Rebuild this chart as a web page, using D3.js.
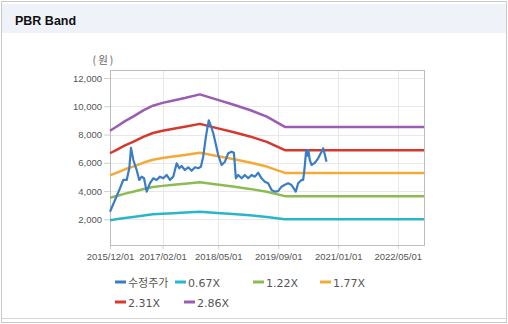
<!DOCTYPE html>
<html>
<head>
<meta charset="utf-8">
<script src="https://cdn.jsdelivr.net/npm/d3@7/dist/d3.min.js"></script>
<style>
  html, body { margin: 0; padding: 0; background: #fff; }
  svg { display: block; }
</style>
</head>
<body>
<svg id="chart" width="508" height="324"></svg>
<script>
// Adjusted share price (수정주가), sampled dates and values in KRW
const priceDates = [
  "2015-12-01","2016-01-11","2016-02-20","2016-03-18","2016-04-15","2016-05-06","2016-05-20",
  "2016-06-08","2016-07-05","2016-07-26","2016-08-15","2016-09-03","2016-09-25","2016-10-21",
  "2016-11-17","2016-12-15","2017-01-11","2017-02-07","2017-03-06","2017-04-02","2017-04-29",
  "2017-05-27","2017-06-17","2017-07-06","2017-08-02","2017-08-29","2017-09-26","2017-10-23",
  "2017-11-18","2017-12-10","2017-12-29","2018-01-20","2018-02-12","2018-02-27","2018-03-21",
  "2018-04-12","2018-04-30","2018-05-28","2018-06-24","2018-07-21","2018-08-17","2018-09-05",
  "2018-09-21","2018-10-10","2018-11-07","2018-12-03","2018-12-30","2019-01-27","2019-02-23",
  "2019-03-22","2019-04-18","2019-05-15","2019-06-11","2019-07-09","2019-08-05","2019-08-31",
  "2019-09-28","2019-10-25","2019-11-21","2019-12-18","2020-01-22","2020-02-10","2020-03-09",
  "2020-03-22","2020-04-01","2020-04-15","2020-04-25","2020-05-03","2020-05-15","2020-05-29",
  "2020-06-25","2020-07-22","2020-08-19","2020-09-01","2020-09-15","2020-09-28"
];
const priceValues = [
  2540,3370,4195,4785,4785,5610,7050,
  6200,5490,4785,5020,4905,3960,4550,
  4905,4785,5020,4905,5140,4785,5020,
  5965,5610,5775,5490,5680,5440,5680,
  5610,5725,6430,7850,9000,8676,8090,
  7260,6553,5845,6080,6673,6787,6716,
  4905,5140,4905,5140,4905,5140,5020,
  5300,4900,4665,4550,4080,3960,4000,
  4310,4450,4550,4430,3960,4550,4785,
  4785,5490,6850,6500,6900,6200,5845,
  6000,6320,6787,7025,6553,6080
];

// Book value per share used for the PBR bands
const bpsDates = [
  "2015-12-01","2016-02-01","2016-04-01","2016-06-06","2016-09-01","2016-11-15","2017-02-01",
  "2017-05-01","2017-08-01","2017-12-02","2018-04-20","2018-08-28","2019-01-13","2019-05-31",
  "2019-10-25","2022-12-01"
];
const bpsValues = [
  2890,3010,3130,3239,3400,3510,3580,
  3640,3700,3790,3660,3540,3405,3239,
  2985,2985
];

// PBR multiples for each band
const bandMultiples = [0.67, 1.22, 1.77, 2.31, 2.86];

const seriesNames = ["수정주가", "0.67X", "1.22X", "1.77X", "2.31X", "2.86X"];
const seriesColors = ["#3b7cc6", "#2bb6c8", "#8dbb52", "#f4aa34", "#d6382e", "#9a5db3"];

const yTicks = [2000, 4000, 6000, 8000, 10000, 12000];
const xTickLabels = ["2015/12/01", "2017/02/01", "2018/05/01", "2019/09/01", "2021/01/01", "2022/05/01"];

const parse = d3.timeParse("%Y-%m-%d");
const parseTick = d3.timeParse("%Y/%m/%d");

const svg = d3.select("#chart");
const W = 508, H = 324;

// outer frame and header
svg.append("rect").attr("x", 1.5).attr("y", 1.5).attr("width", W - 3).attr("height", H - 3)
  .attr("fill", "#fff").attr("stroke", "#c9c9c9");
svg.append("rect").attr("x", 2).attr("y", 4).attr("width", W - 4).attr("height", 29)
  .attr("fill", "#eff2f8");
svg.append("line").attr("x1", 2).attr("x2", W - 2).attr("y1", 318.5).attr("y2", 318.5)
  .attr("stroke", "#d6d6d6");
svg.append("text").attr("x", 15).attr("y", 25)
  .attr("font-family", "'Liberation Sans', Arial, sans-serif")
  .attr("font-weight", "bold").attr("font-size", "12.5px").attr("fill", "#111")
  .text("PBR Band");

// plot area
const plot = { left: 110, top: 70, right: 424, bottom: 245 };

const x = d3.scaleTime()
  .domain([parse("2015-12-01"), parse("2022-12-01")])
  .range([plot.left, plot.right]);
const y = d3.scaleLinear()
  .domain([184, 12566])
  .range([plot.bottom, plot.top]);

const tickFont = "'Liberation Sans', Arial, sans-serif";

// grid
const grid = svg.append("g");
grid.selectAll("line.h").data(yTicks).join("line")
  .attr("x1", plot.left).attr("x2", plot.right)
  .attr("y1", d => Math.round(y(d)) + 0.5).attr("y2", d => Math.round(y(d)) + 0.5)
  .attr("stroke", "#e8e8e8");
grid.selectAll("line.v").data(xTickLabels).join("line")
  .attr("x1", d => Math.round(x(parseTick(d))) + 0.5).attr("x2", d => Math.round(x(parseTick(d))) + 0.5)
  .attr("y1", plot.top).attr("y2", plot.bottom)
  .attr("stroke", "#e8e8e8");

// axes
const yAxis = svg.append("g").attr("transform", `translate(${plot.left},0)`)
  .call(d3.axisLeft(y).tickValues(yTicks).tickFormat(d3.format(",")).tickSize(6).tickPadding(2));
const xAxis = svg.append("g").attr("transform", `translate(0,${plot.bottom})`)
  .call(d3.axisBottom(x).tickValues(xTickLabels.map(parseTick))
    .tickFormat(d3.timeFormat("%Y/%m/%d")).tickSize(4).tickPadding(4));
[yAxis, xAxis].forEach(g => {
  g.select(".domain").remove();
  g.selectAll(".tick line").attr("stroke", "#d0d0d0");
  g.selectAll(".tick text").attr("fill", "#555").attr("font-family", tickFont).attr("font-size", "9.5px");
});

// plot frame
svg.append("rect")
  .attr("x", plot.left + 0.5).attr("y", plot.top + 0.5)
  .attr("width", plot.right - plot.left).attr("height", plot.bottom - plot.top)
  .attr("fill", "none").attr("stroke", "#bdbdbd");

// unit label
svg.append("text").attr("x", 104).attr("y", 64).attr("text-anchor", "middle")
  .attr("font-family", "'Noto Sans CJK KR', sans-serif").attr("font-size", "10.5px")
  .attr("letter-spacing", "2px")
  .attr("fill", "#666").text("(원)");

const line = d3.line().x(d => x(d[0])).y(d => y(d[1]));

// PBR bands
const bps = bpsDates.map((d, i) => [parse(d), bpsValues[i]]);
bandMultiples.forEach((m, i) => {
  svg.append("path")
    .datum(bps.map(p => [p[0], p[1] * m]))
    .attr("d", line)
    .attr("fill", "none")
    .attr("stroke", seriesColors[i + 1])
    .attr("stroke-width", 2.5)
    .attr("stroke-linejoin", "round");
});

// price line
svg.append("path")
  .datum(priceDates.map((d, i) => [parse(d), priceValues[i]]))
  .attr("d", line)
  .attr("fill", "none")
  .attr("stroke", seriesColors[0])
  .attr("stroke-width", 2.2)
  .attr("stroke-linejoin", "round");

// legend
const legendPos = [[115, 282], [175, 282], [253, 282], [320, 282], [115, 302], [184, 302]];
const legend = svg.append("g");
seriesNames.forEach((name, i) => {
  const [lx, ly] = legendPos[i];
  legend.append("line").attr("x1", lx).attr("x2", lx + 11).attr("y1", ly).attr("y2", ly)
    .attr("stroke", seriesColors[i]).attr("stroke-width", 3);
  legend.append("text").attr("x", lx + 13).attr("y", ly + 4.5)
    .attr("font-family", "'DejaVu Sans', 'Noto Sans CJK KR', sans-serif")
    .attr("font-size", "11px").attr("fill", "#555")
    .text(name);
});
</script>
</body>
</html>
